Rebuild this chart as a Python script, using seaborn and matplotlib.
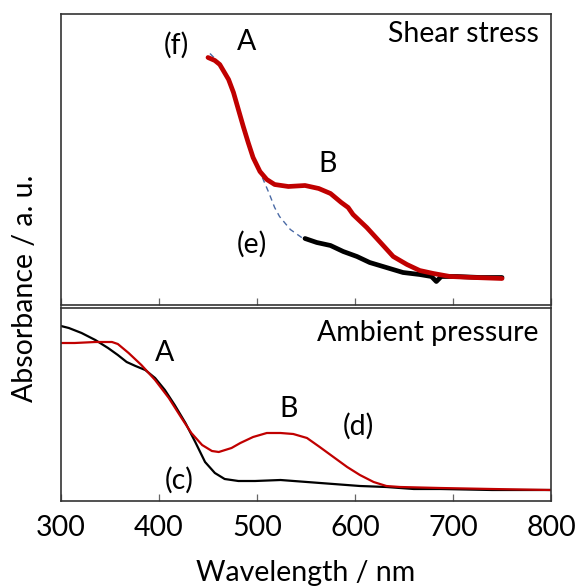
import matplotlib
matplotlib.use("Agg")
import matplotlib.pyplot as plt
import seaborn as sns

# ---- data (arbitrary absorbance units) ----
# Top panel: shear stress
f_wl = [450, 457, 462, 471, 476, 481, 486, 491, 496, 503, 510, 518, 532, 549, 563, 575, 586, 593,
        598, 612, 626, 639, 653, 666, 680, 697, 721, 750]
f_abs = [247, 244, 240, 225, 212, 195, 178, 162, 147, 133, 125, 120, 118, 119, 116, 111, 102, 97,
         90, 77, 62, 48, 40, 34, 31, 28, 27, 26]
e_wl = [549, 561, 575, 588, 602, 615, 632, 649, 666, 678, 683, 688, 704, 728, 750]
e_abs = [66, 62, 59, 53, 48, 42, 37, 32, 30, 28, 23, 28, 28, 27, 27]
fit_wl = [452, 462, 471, 481, 491, 496, 505, 512, 518, 523, 534, 547]
fit_abs = [251, 241, 226, 196, 163, 148, 128, 112, 97, 88, 75, 66]

# Bottom panel: ambient pressure
c_wl = [300, 308, 321, 335, 348, 358, 367, 376, 386, 396, 406, 416, 427, 437, 447, 457, 467, 481,
        498, 524, 551, 578, 605, 632, 660, 687, 740, 800]
c_abs = [175, 173, 168, 161, 153, 146, 139, 135, 131, 123, 111, 96, 78, 59, 39, 28, 22, 20,
         20, 21, 19, 17, 15, 14, 12, 12, 11, 11]
d_wl = [300, 314, 335, 352, 358, 369, 382, 396, 410, 423, 433, 444, 454, 461, 474, 483, 496, 510,
        524, 537, 551, 564, 578, 592, 605, 619, 632, 646, 687, 740, 800]
d_abs = [158, 158, 159, 159, 157, 148, 136, 121, 103, 83, 68, 56, 50, 49, 53, 58, 64, 68,
         68, 67, 63, 54, 44, 34, 26, 19, 15, 14, 13, 12, 11]

xticks = [300, 400, 500, 600, 700, 800]

sns.set_theme(style="white")
plt.rcParams["font.family"] = ["Lato", "DejaVu Sans"]
plt.rcParams["text.color"] = "black"
plt.rcParams["axes.labelcolor"] = "black"
plt.rcParams["xtick.color"] = "black"

RED = "#c00000"
BLUE = "#4a6aa5"
FS = 20.5

fig = plt.figure(figsize=(5.76, 5.86), dpi=100)
L, R = 61 / 576, 551 / 576
ax1 = fig.add_axes([L, 1 - 304.5 / 586, R - L, (304.5 - 14) / 586])
ax2 = fig.add_axes([L, 1 - 501 / 586, R - L, (501 - 307.5) / 586])

sns.lineplot(x=fit_wl, y=fit_abs, ax=ax1, color=BLUE, lw=1.0, linestyle=(0, (4, 3)))
sns.lineplot(x=e_wl, y=e_abs, ax=ax1, color="black", lw=3.4)
sns.lineplot(x=f_wl, y=f_abs, ax=ax1, color=RED, lw=3.4)

sns.lineplot(x=c_wl, y=c_abs, ax=ax2, color="black", lw=1.6)
sns.lineplot(x=d_wl, y=d_abs, ax=ax2, color=RED, lw=1.6)

ax1.set_ylim(0, 290.5)
ax2.set_ylim(0, 193.5)
for ax in (ax1, ax2):
    ax.set_xlim(300, 800)
    ax.set_xticks(xticks)
    ax.set_yticks([])
    ax.set_xlabel("")
    ax.set_ylabel("")
    ax.tick_params(axis="x", direction="in", length=5, width=0.9, color="#666666",
                   bottom=True, labelsize=FS, pad=10, labelcolor="black")
    for s in ax.spines.values():
        s.set_color("#333333")
        s.set_linewidth(1.2)
ax1.tick_params(axis="x", labelbottom=False)
ax2.set_xticklabels([str(t) for t in xticks])
ax2.set_xlabel("Wavelength / nm", fontsize=FS, labelpad=14)

# annotations top
ax1.text(0.975, 0.93, "Shear stress", transform=ax1.transAxes, ha="right", va="center", fontsize=FS)
ax1.text(418, 259, "(f)", ha="center", va="center", fontsize=FS)
ax1.text(489, 263, "A", ha="center", va="center", fontsize=FS)
ax1.text(572, 140, "B", ha="center", va="center", fontsize=FS)
ax1.text(495, 60, "(e)", ha="center", va="center", fontsize=FS)

# annotations bottom
ax2.text(0.975, 0.87, "Ambient pressure", transform=ax2.transAxes, ha="right", va="center", fontsize=FS)
ax2.text(406, 148, "A", ha="center", va="center", fontsize=FS)
ax2.text(532, 92, "B", ha="center", va="center", fontsize=FS)
ax2.text(603, 75, "(d)", ha="center", va="center", fontsize=FS)
ax2.text(421, 21, "(c)", ha="center", va="center", fontsize=FS)

fig.text(25 / 576, 1 - 288 / 586, "Absorbance / a. u.", rotation=90, ha="center", va="center", fontsize=FS)

fig.savefig("out.png", dpi=100)
